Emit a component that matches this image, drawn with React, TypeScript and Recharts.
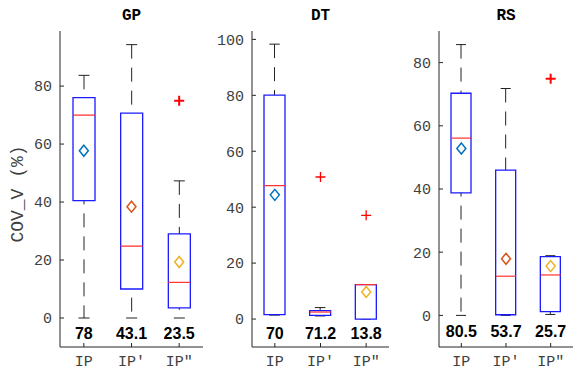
import { ComposedChart, Bar, Scatter, XAxis, YAxis } from 'recharts';

const groups = ['IP', "IP'", 'IP"'];

// GP
const gpLow = [0, 0, 0];
const gpQ1 = [40.5, 10, 3.5];
const gpMedian = [70, 24.8, 12.3];
const gpQ3 = [76, 70.7, 29];
const gpHigh = [83.7, 94.3, 47.3];
const gpMean = [57.7, 38.4, 19.3];
const gpOutlier = [null, null, 74.9];
const gpCounts = ['78', '43.1', '23.5'];
const gpTicks = [0, 20, 40, 60, 80];

// DT
const dtLow = [1.4, 1.1, 0];
const dtQ1 = [1.6, 1.3, 0];
const dtMedian = [47.7, 2.5, 12.3];
const dtQ3 = [80.1, 3, 12.3];
const dtHigh = [98.3, 4.1, 12.3];
const dtMean = [44.4, null, 9.7];
const dtOutlier = [null, 50.8, 37.1];
const dtCounts = ['70', '71.2', '13.8'];
const dtTicks = [0, 20, 40, 60, 80, 100];

// RS
const rsLow = [0, 0, 0.3];
const rsQ1 = [38.8, 0.2, 1.2];
const rsMedian = [56.1, 12.4, 12.8];
const rsQ3 = [70.3, 46, 18.6];
const rsHigh = [85.7, 71.8, 18.9];
const rsMean = [52.8, 17.9, 15.6];
const rsOutlier = [null, null, 74.9];
const rsCounts = ['80.5', '53.7', '25.7'];
const rsTicks = [0, 20, 40, 60, 80];

const COUNT_Y = -5.2;
const meanColors = ['#0072BD', '#D95319', '#EDB120'];
const MONO = '"Liberation Mono", "DejaVu Sans Mono", monospace';
const SANS = '"Liberation Sans", Arial, sans-serif';
const AXIS = '#262626';
const TICK_TEXT = '#404040';

type PanelProps = {
  title: string;
  left: number;
  plotWidth: number;
  domain: [number, number];
  ticks: number[];
  low: number[];
  q1: number[];
  median: number[];
  q3: number[];
  high: number[];
  mean: (number | null)[];
  outlier: (number | null)[];
  counts: string[];
  barSize: number;
  plusWidth: number;
};

const Whisker = (props: any) => {
  const { x, y, width, height } = props;
  if (x == null || isNaN(y)) return <g />;
  const cx = x + width / 2;
  const cap = width / 4;
  return (
    <g>
      <line x1={cx} x2={cx} y1={y} y2={y + height} stroke="#222" strokeWidth={1} strokeDasharray="14 9" />
      <line x1={cx - cap} x2={cx + cap} y1={y} y2={y} stroke="#222" strokeWidth={1} />
      <line x1={cx - cap} x2={cx + cap} y1={y + height} y2={y + height} stroke="#222" strokeWidth={1} />
    </g>
  );
};

const Panel = (p: PanelProps) => {
  const rows = groups.map((cat, i) => ({
    cat,
    idx: i,
    whisker: [p.low[i], p.high[i]],
    box: [p.q1[i], p.q3[i]],
    median: p.median[i],
    mean: p.mean[i],
    outlier: p.outlier[i],
    count: p.counts[i],
  }));
  const half = p.barSize / 2;

  return (
    <div style={{ position: 'absolute', left: p.left - 60, top: 0 }}>
      <div
        style={{
          position: 'absolute',
          left: 60,
          width: p.plotWidth,
          top: 7,
          lineHeight: '18px',
          textAlign: 'center',
          fontFamily: MONO,
          fontWeight: 'bold',
          fontSize: 16,
          color: '#000',
        }}
      >
        {p.title}
      </div>
      <ComposedChart
        width={60 + p.plotWidth + 1}
        height={372}
        data={rows}
        margin={{ top: 31, right: 1, bottom: 0, left: 0 }}
        barSize={p.barSize}
        barGap={-p.barSize}
      >
        <XAxis
          dataKey="cat"
          type="category"
          height={25}
          interval={0}
          tickSize={-4}
          tickMargin={12}
          tick={{ fontFamily: MONO, fontSize: 15, fill: TICK_TEXT }}
          axisLine={{ stroke: AXIS }}
          tickLine={{ stroke: AXIS }}
        />
        <XAxis
          xAxisId="top"
          orientation="top"
          type="number"
          domain={[0.5, 3.5]}
          ticks={[1, 2, 3]}
          allowDataOverflow
          height={0}
          tickSize={-4}
          tickFormatter={() => ''}
          axisLine={{ stroke: AXIS }}
          tickLine={{ stroke: AXIS }}
        />
        <YAxis
          type="number"
          domain={p.domain}
          ticks={p.ticks}
          allowDataOverflow
          interval={0}
          width={60}
          tickSize={-4}
          tickMargin={12}
          tick={{ fontFamily: MONO, fontSize: 15, fill: TICK_TEXT }}
          axisLine={{ stroke: AXIS }}
          tickLine={{ stroke: AXIS }}
        />
        <YAxis
          yAxisId="right"
          orientation="right"
          type="number"
          domain={p.domain}
          ticks={p.ticks}
          allowDataOverflow
          width={0}
          tickSize={-4}
          tickFormatter={() => ''}
          axisLine={{ stroke: AXIS }}
          tickLine={{ stroke: AXIS }}
        />
        <Bar dataKey="whisker" shape={Whisker} isAnimationActive={false} />
        <Bar dataKey="box" fill="#ffffff" stroke="#1a1aff" strokeWidth={1.3} isAnimationActive={false} />
        <Scatter
          dataKey="median"
          isAnimationActive={false}
          shape={(s: any) =>
            s.payload.median == null ? <g /> : (
              <line x1={s.cx - half} x2={s.cx + half} y1={s.cy} y2={s.cy} stroke="#ff3030" strokeWidth={1.2} />
            )
          }
        />
        <Scatter
          dataKey="mean"
          isAnimationActive={false}
          shape={(s: any) =>
            s.payload.mean == null ? <g /> : (
              <path
                d={`M${s.cx},${s.cy - 5.5}L${s.cx + 4.5},${s.cy}L${s.cx},${s.cy + 5.5}L${s.cx - 4.5},${s.cy}Z`}
                fill="none"
                stroke={meanColors[s.payload.idx]}
                strokeWidth={1.5}
              />
            )
          }
        />
        <Scatter
          dataKey="outlier"
          isAnimationActive={false}
          shape={(s: any) =>
            s.payload.outlier == null ? <g /> : (
              <g stroke="#ff0000" strokeWidth={p.plusWidth}>
                <line x1={s.cx - 5} x2={s.cx + 5} y1={s.cy} y2={s.cy} />
                <line x1={s.cx} x2={s.cx} y1={s.cy - 5} y2={s.cy + 5} />
              </g>
            )
          }
        />
        <Scatter
          dataKey={() => COUNT_Y}
          isAnimationActive={false}
          shape={(s: any) => (
            <text
              x={s.cx}
              y={s.cy}
              textAnchor="middle"
              dominantBaseline="central"
              fontFamily={SANS}
              fontWeight="bold"
              fontSize={16}
              fill="#000"
            >
              {s.payload.count}
            </text>
          )}
        />
      </ComposedChart>
    </div>
  );
};

export default function App() {
  return (
    <div style={{ position: 'fixed', left: 0, top: 0, width: 574, height: 372, background: '#fff', overflow: 'hidden' }}>
      <div
        style={{
          position: 'absolute',
          left: -42,
          top: 185,
          width: 120,
          height: 18,
          lineHeight: '18px',
          textAlign: 'center',
          transform: 'rotate(-90deg)',
          fontFamily: MONO,
          fontSize: 18,
          color: TICK_TEXT,
          whiteSpace: 'pre',
        }}
      >
        COV_V (%)
      </div>
      <Panel
        title="GP"
        left={60}
        plotWidth={143}
        domain={[-10, 99]}
        ticks={gpTicks}
        low={gpLow}
        q1={gpQ1}
        median={gpMedian}
        q3={gpQ3}
        high={gpHigh}
        mean={gpMean}
        outlier={gpOutlier}
        counts={gpCounts}
        barSize={22}
        plusWidth={2}
      />
      <Panel
        title="DT"
        left={252}
        plotWidth={137}
        domain={[-10, 103]}
        ticks={dtTicks}
        low={dtLow}
        q1={dtQ1}
        median={dtMedian}
        q3={dtQ3}
        high={dtHigh}
        mean={dtMean}
        outlier={dtOutlier}
        counts={dtCounts}
        barSize={21}
        plusWidth={1.3}
      />
      <Panel
        title="RS"
        left={439}
        plotWidth={134}
        domain={[-10, 90]}
        ticks={rsTicks}
        low={rsLow}
        q1={rsQ1}
        median={rsMedian}
        q3={rsQ3}
        high={rsHigh}
        mean={rsMean}
        outlier={rsOutlier}
        counts={rsCounts}
        barSize={20}
        plusWidth={2}
      />
    </div>
  );
}
